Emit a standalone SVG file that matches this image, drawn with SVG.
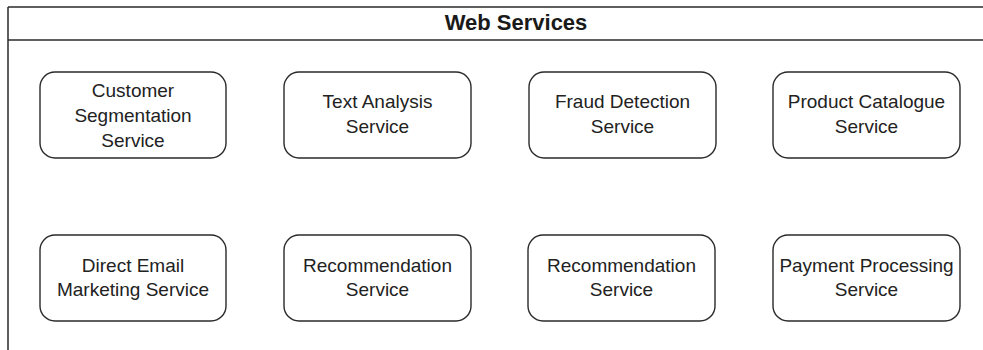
<svg xmlns="http://www.w3.org/2000/svg" width="983" height="350" viewBox="0 0 983 350">
<style>
.frame{fill:none;stroke:#2a2a2a;stroke-width:1.5}
.box{fill:#ffffff;stroke:#2a2a2a;stroke-width:1.4}
.lbl{font-family:"Liberation Sans",Arial,sans-serif;font-size:19px;fill:#222;text-anchor:middle}
.title{font-family:"Liberation Sans",Arial,sans-serif;font-size:22px;font-weight:bold;fill:#1a1a1a;text-anchor:middle}
</style>
<rect width="983" height="350" fill="#ffffff"/>
<g id="container">
<line class="frame" x1="8" y1="7" x2="983" y2="7"/>
<line class="frame" x1="8" y1="40" x2="983" y2="40"/>
<line class="frame" x1="8" y1="7" x2="8" y2="350"/>
<text class="title" x="516" y="30">Web Services</text>
</g>
<g id="connectors"></g>
<g id="customer-segmentation">
<rect class="box" x="40" y="72" width="186" height="86" rx="15"/>
<text class="lbl" x="133" y="97">Customer</text>
<text class="lbl" x="133" y="122">Segmentation</text>
<text class="lbl" x="133" y="147">Service</text>
</g>
<g id="text-analysis">
<rect class="box" x="284" y="72" width="187" height="86" rx="15"/>
<text class="lbl" x="377.5" y="108">Text Analysis</text>
<text class="lbl" x="377.5" y="133">Service</text>
</g>
<g id="fraud-detection">
<rect class="box" x="529" y="72" width="187" height="86" rx="15"/>
<text class="lbl" x="622.5" y="108">Fraud Detection</text>
<text class="lbl" x="622.5" y="133">Service</text>
</g>
<g id="product-catalogue">
<rect class="box" x="773" y="72" width="187" height="86" rx="15"/>
<text class="lbl" x="866.5" y="108">Product Catalogue</text>
<text class="lbl" x="866.5" y="133">Service</text>
</g>
<g id="direct-email">
<rect class="box" x="40" y="235" width="186" height="86" rx="15"/>
<text class="lbl" x="133" y="272">Direct Email</text>
<text class="lbl" x="133" y="296">Marketing Service</text>
</g>
<g id="recommendation-1">
<rect class="box" x="284" y="235" width="187" height="86" rx="15"/>
<text class="lbl" x="377.5" y="272">Recommendation</text>
<text class="lbl" x="377.5" y="296">Service</text>
</g>
<g id="recommendation-2">
<rect class="box" x="528" y="235" width="187" height="86" rx="15"/>
<text class="lbl" x="621.5" y="272">Recommendation</text>
<text class="lbl" x="621.5" y="296">Service</text>
</g>
<g id="payment-processing">
<rect class="box" x="773" y="235" width="187" height="86" rx="15"/>
<text class="lbl" x="866.5" y="272">Payment Processing</text>
<text class="lbl" x="866.5" y="296">Service</text>
</g>
</svg>
